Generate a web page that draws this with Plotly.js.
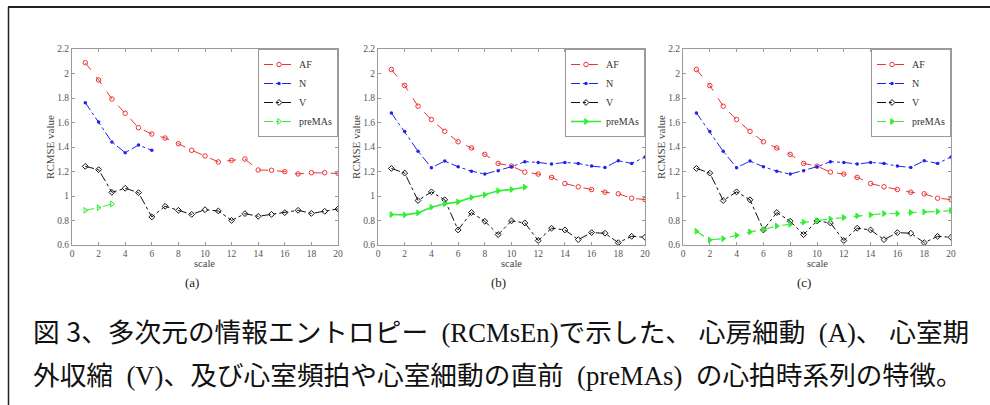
<!DOCTYPE html>
<html>
<head>
<meta charset="utf-8">
<script src="https://cdn.plot.ly/plotly-3.0.1.min.js"></script>
<style>html,body{margin:0;padding:0;background:#fff;}#chart{width:990px;height:405px;}</style>
</head>
<body>
<div id="chart"></div>
<script>
// ---- data ----
const scales = [1,2,3,4,5,6,7,8,9,10,11,12,13,14,15,16,17,18,19,20];
const seriesNames = ["AF", "N", "V", "preMAs"];
const panelLabels = ["(a)", "(b)", "(c)"];
// panel (a)
const afA  = [2.088,1.947,1.792,1.675,1.558,1.506,1.473,1.427,1.373,1.327,1.278,1.291,1.302,1.212,1.210,1.199,1.180,1.190,1.190,1.185];
const nA   = [1.762,1.604,1.441,1.354,1.416,1.373];
const vA   = [1.242,1.215,1.030,1.063,1.027,0.829,0.916,0.883,0.850,0.888,0.878,0.801,0.856,0.834,0.850,0.864,0.883,0.858,0.875,0.894];
const preA = [0.883,0.905,0.935];
// panels (b) and (c)
const afB  = [2.033,1.902,1.733,1.624,1.528,1.443,1.392,1.340,1.266,1.244,1.195,1.179,1.152,1.102,1.075,1.053,1.031,1.018,0.982,0.971];
const nB   = [1.678,1.526,1.365,1.231,1.285,1.239,1.203,1.179,1.206,1.239,1.280,1.274,1.261,1.274,1.266,1.244,1.233,1.288,1.266,1.318];
const vB   = [1.225,1.187,0.963,1.034,0.969,0.723,0.865,0.794,0.685,0.797,0.780,0.636,0.737,0.723,0.644,0.701,0.696,0.619,0.671,0.663];
const preB = [0.849,0.846,0.862,0.909,0.936,0.952,0.988,1.010,1.042,1.053,1.072];
const afC = afB, nC = nB, vC = vB;
const preC = [0.712,0.641,0.652,0.679,0.707,0.726,0.756,0.769,0.786,0.799,0.813,0.824,0.838,0.846,0.857,0.857,0.865,0.870,0.873,0.881];
// ticks and texts
const xTickVals = [0,2,4,6,8,10,12,14,16,18,20];
const yTickVals = [0.6,0.8,1.0,1.2,1.4,1.6,1.8,2.0,2.2];
const yTickText = ["0.6","0.8","1","1.2","1.4","1.6","1.8","2","2.2"];
const xTitle = "scale";
const yTitle = "RCMSE value";
const captionLines = [
  "図 <span style=\"font-family:Noto Sans CJK JP\">3</span>、多次元の情報エントロピー  (RCMsEn)で示した、 心房細動  (A)、 心室期",
  "外収縮  (V)、及び心室頻拍や心室細動の直前  (preMAs)  の心拍時系列の特徴。"
];

// ---- styling ----
const W = 990, H = 405;
const serif = "Liberation Serif";
const panels = [
  {af: afA, n: nA, v: vA, pre: preA, x0: 72, x1: 338, preDash: "dashdot", preSym: "triangle-right-open", preW: 1},
  {af: afB, n: nB, v: vB, pre: preB, x0: 378, x1: 645, preDash: "solid", preSym: "triangle-right", preW: 1.6},
  {af: afC, n: nC, v: vC, pre: preC, x0: 683, x1: 951, preDash: "dash", preSym: "triangle-right", preW: 1.2}
];
const yTop = 49, yBot = 245;
const colors = {AF: "#ee3333", N: "#2222ee", V: "#111111", pre: "#33ee33"};

const traces = [];
const layout = {
  width: W, height: H,
  margin: {l: 0, r: 0, t: 0, b: 0},
  paper_bgcolor: "#fff", plot_bgcolor: "#fff",
  showlegend: true,
  font: {family: serif, color: "#444", size: 10},
  annotations: [], shapes: []
};

panels.forEach((p, i) => {
  const k = i === 0 ? "" : String(i + 1);
  const xa = "x" + k, ya = "y" + k;
  const lg = "legend" + k;
  const common = {xaxis: xa, yaxis: ya, legend: lg, mode: "lines+markers", hoverinfo: "x+y"};
  traces.push(Object.assign({}, common, {
    name: seriesNames[0], x: scales.slice(0, p.af.length), y: p.af,
    line: {color: colors.AF, width: 1, dash: "dash"},
    marker: {symbol: "circle-open", size: 4.5, color: colors.AF, line: {width: 1}}
  }));
  traces.push(Object.assign({}, common, {
    name: seriesNames[1], x: scales.slice(0, p.n.length), y: p.n,
    line: {color: colors.N, width: 1, dash: "dashdot"},
    marker: {symbol: "circle", size: 3.5, color: colors.N}
  }));
  traces.push(Object.assign({}, common, {
    name: seriesNames[2], x: scales.slice(0, p.v.length), y: p.v,
    line: {color: colors.V, width: 1, dash: "dashdot"},
    marker: {symbol: "diamond-open", size: 4.5, color: colors.V, line: {width: 1}}
  }));
  traces.push(Object.assign({}, common, {
    name: seriesNames[3], x: scales.slice(0, p.pre.length), y: p.pre,
    line: {color: colors.pre, width: p.preW, dash: p.preDash},
    marker: {symbol: p.preSym, size: 5, color: colors.pre, line: {width: 1, color: colors.pre}}
  }));

  const axCommon = {
    showline: true, linecolor: "#9a9a9a", linewidth: 1, mirror: "ticks",
    ticks: "inside", ticklen: 3, tickcolor: "#9a9a9a",
    showgrid: false, zeroline: false,
    tickfont: {family: serif, size: 9.5, color: "#555"}
  };
  layout["xaxis" + k] = Object.assign({}, axCommon, {
    domain: [p.x0 / W, p.x1 / W], anchor: ya, range: [0, 20],
    tickmode: "array", tickvals: xTickVals
  });
  layout["yaxis" + k] = Object.assign({}, axCommon, {
    domain: [1 - yBot / H, 1 - yTop / H], anchor: xa, range: [0.6, 2.2],
    tickmode: "array", tickvals: yTickVals, ticktext: yTickText,
    title: {text: yTitle, font: {family: serif, size: 11, color: "#444"}, standoff: 0}
  });
  layout[lg] = {
    x: p.x1 / W, xanchor: "right", y: 1 - yTop / H, yanchor: "top",
    bgcolor: "#fff", bordercolor: "#9a9a9a", borderwidth: 1,
    font: {family: serif, size: 10, color: "#333"},
    itemwidth: 30, tracegroupgap: 0
  };
  // x-axis title (placed tight under the tick labels like the original)
  layout.annotations.push({
    text: xTitle, xref: xa + " domain", yref: "paper",
    x: 0.5, y: 1 - 263 / H, xanchor: "center", yanchor: "middle",
    showarrow: false, font: {family: serif, size: 10.5, color: "#444"}
  });
  layout.annotations.push({
    text: panelLabels[i], xref: "paper", yref: "paper",
    x: (p.x0 + p.x1) / 2 / W - 13 / W, y: 1 - 282 / H, xanchor: "center", yanchor: "middle",
    showarrow: false, font: {family: serif, size: 13, color: "#222"}
  });
});

captionLines.forEach((t, j) => {
  layout.annotations.push({
    text: t, xref: "paper", yref: "paper",
    x: 31 / W, y: 1 - (330 + j * 46) / H, xanchor: "left", yanchor: "middle",
    showarrow: false,
    font: {family: "Liberation Serif, Noto Sans CJK JP", size: 26.7, color: "#111"}
  });
});

// frame lines (top and left)
layout.shapes.push({type: "line", xref: "paper", yref: "paper", x0: 8 / W, x1: 1, y0: 1 - 7 / H, y1: 1 - 7 / H, line: {color: "#222", width: 2}});
layout.shapes.push({type: "line", xref: "paper", yref: "paper", x0: 8.5 / W, x1: 8.5 / W, y0: 0, y1: 1 - 7 / H, line: {color: "#222", width: 1.5}});

Plotly.newPlot("chart", traces, layout, {displayModeBar: false, staticPlot: true});
</script>
</body>
</html>
